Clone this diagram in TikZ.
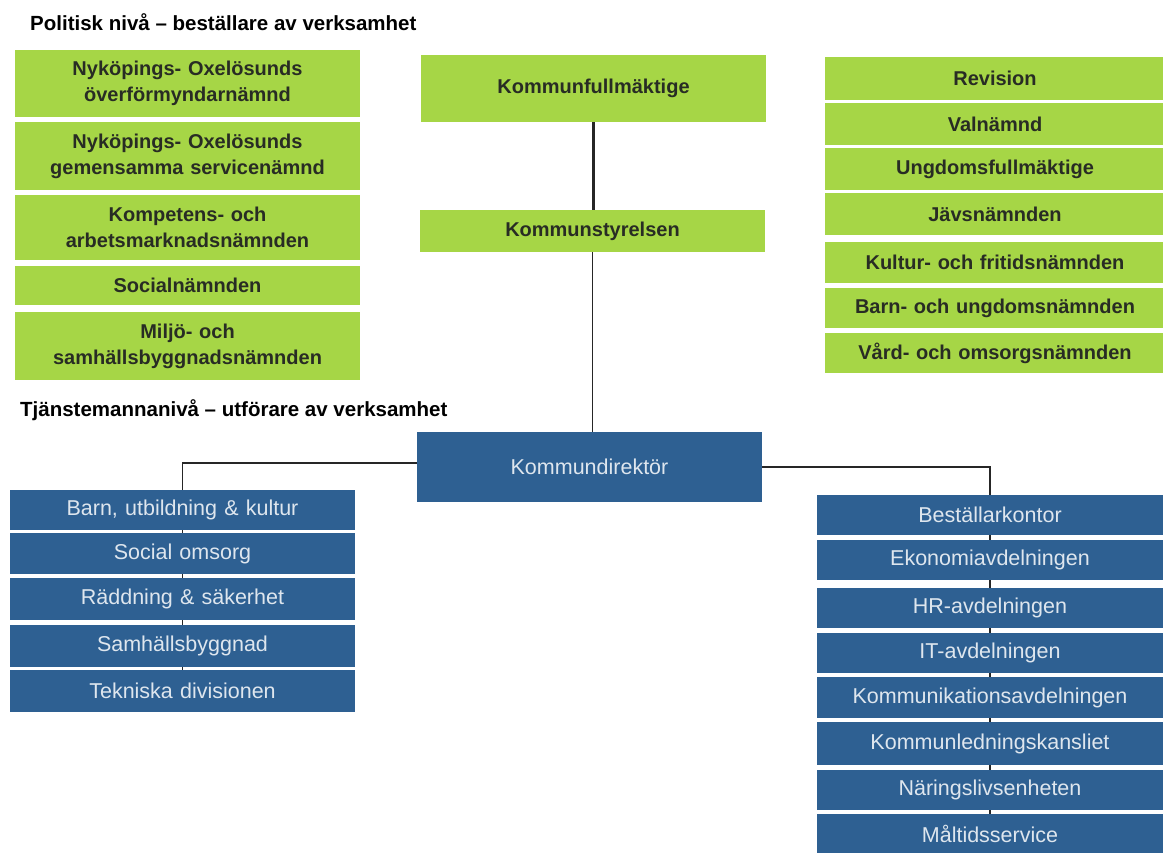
\documentclass[tikz,border=0pt]{standalone}
\usepackage{fontspec}
\setmainfont{Liberation Sans}
\usetikzlibrary{backgrounds}
\definecolor{grn}{RGB}{166,214,70}
\definecolor{blu}{RGB}{46,96,146}
\definecolor{gtxt}{RGB}{40,44,36}
\definecolor{btxt}{RGB}{222,230,238}
\begin{document}
\begin{tikzpicture}[x=1pt,y=-1pt,
  box/.style={rectangle,inner sep=0pt,align=center,text width=336pt},
  gbox/.style={box,fill=grn,text=gtxt,font=\fontsize{20}{26}\selectfont\bfseries},
  bbox/.style={box,fill=blu,text=btxt,font=\fontsize{21.5}{25}\selectfont},
  ttl/.style={anchor=west,inner sep=0pt,font=\fontsize{20.5}{24}\selectfont\bfseries,text=black},
  conn/.style={draw=black!85,line width=1.8pt}]
\useasboundingbox (0,0) rectangle (1163,853);

\node[ttl] (t1) at (30,22) {Politisk nivå – beställare av verksamhet};
\node[ttl] (t2) at (20,410) {Tjänstemannanivå – utförare av verksamhet};

% left green
\node[gbox,minimum width=345pt,minimum height=67pt] (g1) at (187.5,83.5) {Nyköpings- Oxelösunds\\överförmyndarnämnd};
\node[gbox,minimum width=345pt,minimum height=68pt] (g2) at (187.5,156) {Nyköpings- Oxelösunds\\gemensamma servicenämnd};
\node[gbox,minimum width=345pt,minimum height=65pt] (g3) at (187.5,227.5) {Kompetens- och\\arbetsmarknadsnämnden};
\node[gbox,minimum width=345pt,minimum height=39pt] (g4) at (187.5,285.5) {Socialnämnden};
\node[gbox,minimum width=345pt,minimum height=68pt] (g5) at (187.5,346) {Miljö- och\\samhällsbyggnadsnämnden};

% centre
\node[gbox,minimum width=345pt,minimum height=67pt] (kf) at (593.5,88.5) {Kommunfullmäktige};
\node[gbox,minimum width=345pt,minimum height=42pt] (ks) at (592.5,231) {Kommunstyrelsen};
\node[bbox,minimum width=345pt,minimum height=70pt] (kd) at (589.5,467) {Kommundirektör};

% right green
\node[gbox,minimum width=340pt,minimum height=43pt] (r1) at (995,78.5) {Revision};
\node[gbox,minimum width=340pt,minimum height=42pt] (r2) at (995,124) {Valnämnd};
\node[gbox,minimum width=340pt,minimum height=42pt] (r3) at (995,169) {Ungdomsfullmäktige};
\node[gbox,minimum width=340pt,minimum height=42pt] (r4) at (995,214) {Jävsnämnden};
\node[gbox,minimum width=340pt,minimum height=41pt] (r5) at (995,262.5) {Kultur- och fritidsnämnden};
\node[gbox,minimum width=340pt,minimum height=40pt] (r6) at (995,308) {Barn- och ungdomsnämnden};
\node[gbox,minimum width=340pt,minimum height=40pt] (r7) at (995,353) {Vård- och omsorgsnämnden};

% left blue
\node[bbox,minimum width=345pt,minimum height=40pt] (b1) at (182.5,510) {Barn, utbildning \& kultur};
\node[bbox,minimum width=345pt,minimum height=41pt] (b2) at (182.5,553.5) {Social omsorg};
\node[bbox,minimum width=345pt,minimum height=42pt] (b3) at (182.5,599) {Räddning \& säkerhet};
\node[bbox,minimum width=345pt,minimum height=42pt] (b4) at (182.5,646) {Samhällsbyggnad};
\node[bbox,minimum width=345pt,minimum height=42pt] (b5) at (182.5,691) {Tekniska divisionen};

% right blue
\node[bbox,minimum width=346pt,minimum height=40pt] (c1) at (990,515) {Beställarkontor};
\node[bbox,minimum width=346pt,minimum height=40pt] (c2) at (990,560) {Ekonomiavdelningen};
\node[bbox,minimum width=346pt,minimum height=40pt] (c3) at (990,608) {HR-avdelningen};
\node[bbox,minimum width=346pt,minimum height=40pt] (c4) at (990,653) {IT-avdelningen};
\node[bbox,minimum width=346pt,minimum height=41pt] (c5) at (990,697.5) {Kommunikationsavdelningen};
\node[bbox,minimum width=346pt,minimum height=43pt] (c6) at (990,743.5) {Kommunledningskansliet};
\node[bbox,minimum width=346pt,minimum height=40pt] (c7) at (990,790) {Näringslivsenheten};
\node[bbox,minimum width=346pt,minimum height=40pt] (c8) at (990,834) {Måltidsservice};

\begin{scope}[on background layer]
\fill[white] (0,0) rectangle (1163,853);
\draw[conn,line width=2.2pt] (kf.south) -- (kf.south |- ks.north);
\draw[conn] (ks.south) -- (ks.south |- kd.north);
\draw[conn] ([yshift=4pt]kd.west) -| (b5.center);
\draw[conn] (kd.east) -| (c8.center);
\end{scope}
\end{tikzpicture}
\end{document}
